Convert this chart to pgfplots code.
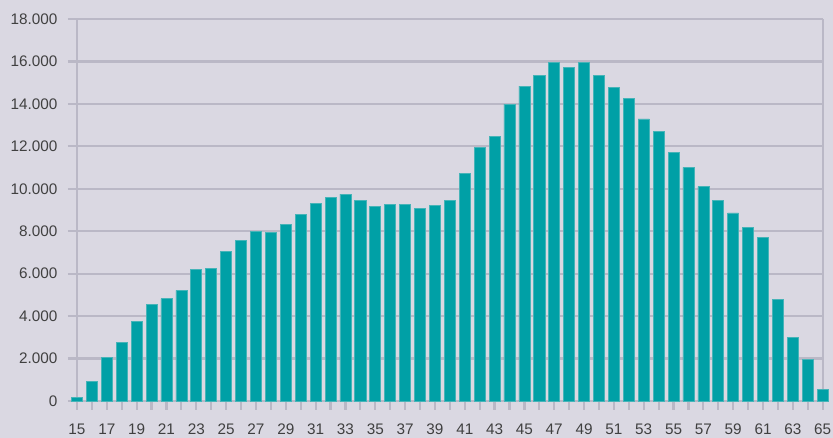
\documentclass[border=0pt]{standalone}
\usepackage{fontspec}
\setmainfont{Liberation Sans}
\usepackage{pgfplots}
\pgfplotsset{compat=1.18}
\definecolor{bg}{RGB}{218,216,226}
\definecolor{gridc}{RGB}{186,184,198}
\definecolor{barc}{RGB}{0,160,166}
\definecolor{bare}{RGB}{70,180,184}
\definecolor{txt}{RGB}{64,64,64}
\pgfplotsset{
  every tick label/.append style={font=\fontsize{15.3}{18}\selectfont, text=txt},
}
\begin{document}
\begin{tikzpicture}[x=1pt,y=1pt]
\fill[bg] (0,0) rectangle (833,438);
\useasboundingbox (0,0) rectangle (833,438);
\begin{axis}[
  at={(77pt,37pt)}, anchor=south west,
  scale only axis, width=745.7pt, height=382pt,
  xmin=15, xmax=65, ymin=0, ymax=18000,
  clip=false,
  axis line style={draw=none},
  ymajorgrids,
  grid style={gridc, line width=2.2pt},
  major tick style={gridc, line width=2.2pt},
  minor tick style={gridc, line width=2.2pt},
  tick align=outside, tick pos=left,
  major tick length=9pt, minor tick length=9pt,
  ytick={0,2000,...,18000},
  xtick={15,17,...,65},
  minor xtick={16,18,...,64},
  extra x ticks={15,65},
  extra x tick labels={},
  extra x tick style={grid=major, major tick length=9pt},
  scaled y ticks=false,
  y tick label style={xshift=-7pt, /pgf/number format/fixed, /pgf/number format/1000 sep={.}},
  x tick label style={yshift=-10pt},
  /pgf/number format/assume math mode=true,
  ybar, bar width=0.74, bar shift=0pt,
]
\addplot[fill=barc, draw=bare, line width=0.7pt] coordinates {
(15,150) (16,925) (17,2050) (18,2770) (19,3750) (20,4540) (21,4820) (22,5210)
(23,6180) (24,6260) (25,7030) (26,7560) (27,7980) (28,7930) (29,8320) (30,8810)
(31,9300) (32,9590) (33,9750) (34,9440) (35,9180) (36,9250) (37,9260) (38,9060)
(39,9230) (40,9440) (41,10730) (42,11940) (43,12460) (44,13990) (45,14840)
(46,15350) (47,15950) (48,15710) (49,15950) (50,15350) (51,14770) (52,14260)
(53,13290) (54,12700) (55,11720) (56,11010) (57,10100) (58,9460) (59,8860)
(60,8170) (61,7720) (62,4800) (63,3000) (64,1960) (65,530)
};
\end{axis}
\end{tikzpicture}
\end{document}
